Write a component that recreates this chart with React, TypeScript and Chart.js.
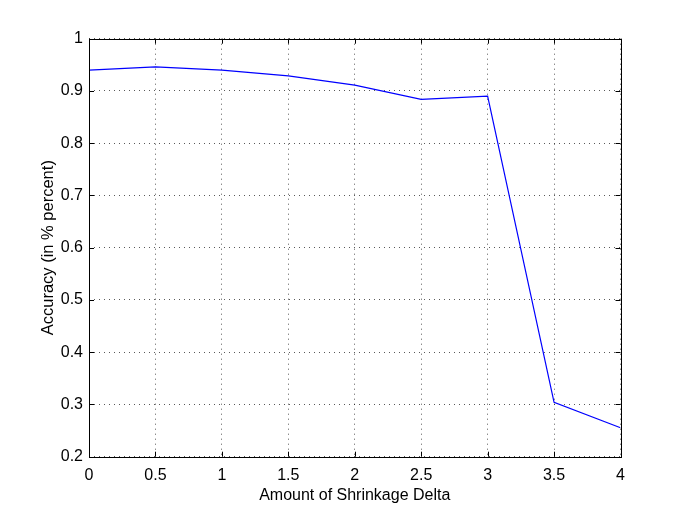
import React, { useEffect, useRef } from "react";
import { Chart, registerables } from "chart.js";

Chart.register(...registerables);

const shrinkageDelta = [0, 0.5, 1, 1.5, 2, 2.5, 3, 3.5, 4];
const accuracy = [0.94, 0.946, 0.94, 0.929, 0.911, 0.884, 0.89, 0.304, 0.2555];
const xTickValues = [0, 0.5, 1, 1.5, 2, 2.5, 3, 3.5, 4];
const xTickLabels = ["0", "0.5", "1", "1.5", "2", "2.5", "3", "3.5", "4"];
const yTickValues = [0.2, 0.3, 0.4, 0.5, 0.6, 0.7, 0.8, 0.9, 1];
const yTickLabels = ["0.2", "0.3", "0.4", "0.5", "0.6", "0.7", "0.8", "0.9", "1"];

const FONT = "'Liberation Sans', Arial, Helvetica, sans-serif";

const boxPlugin = {
  id: "matlabBox",
  afterDraw(chart: any) {
    const { ctx, chartArea } = chart;
    const { left, right, top, bottom } = chartArea;
    const xs = chart.scales.x;
    const ys = chart.scales.y;
    const tl = 5;
    ctx.save();
    ctx.strokeStyle = "#000";
    ctx.lineWidth = 1;
    ctx.setLineDash([]);
    ctx.beginPath();
    for (const v of xTickValues) {
      const px = Math.round(xs.getPixelForValue(v)) + 0.5;
      ctx.moveTo(px, bottom);
      ctx.lineTo(px, bottom - tl);
      ctx.moveTo(px, top);
      ctx.lineTo(px, top + tl);
    }
    for (const v of yTickValues) {
      const py = Math.round(ys.getPixelForValue(v)) + 0.5;
      ctx.moveTo(left, py);
      ctx.lineTo(left + tl, py);
      ctx.moveTo(right, py);
      ctx.lineTo(right - tl, py);
    }
    ctx.stroke();
    ctx.strokeRect(Math.round(left) + 0.5, Math.round(top) + 0.5, Math.round(right - left), Math.round(bottom - top));
    ctx.restore();
  },
};

export default function App() {
  const ref = useRef<HTMLCanvasElement | null>(null);
  useEffect(() => {
    if (!ref.current) return;
    const chart = new Chart(ref.current, {
      type: "line",
      data: {
        datasets: [
          {
            data: shrinkageDelta.map((x, i) => ({ x, y: accuracy[i] })),
            borderColor: "#0000ff",
            borderWidth: 1.2,
            pointRadius: 0,
            tension: 0,
            fill: false,
          },
        ],
      },
      plugins: [boxPlugin],
      options: {
        animation: false,
        responsive: true,
        maintainAspectRatio: false,
        layout: { padding: { top: 38.7, right: 64.5, bottom: 0, left: 0 } },
        plugins: { legend: { display: false }, tooltip: { enabled: false } },
        scales: {
          x: {
            type: "linear",
            min: 0,
            max: 4,
            afterFit: (s: any) => {
              s.height = 57.3;
            },
            afterBuildTicks: (s: any) => {
              s.ticks = xTickValues.map((v) => ({ value: v }));
            },
            ticks: {
              color: "#000",
              padding: 9,
              maxRotation: 0,
              autoSkip: false,
              font: { family: FONT, size: 16 },
              callback: (v: any) => {
                const i = xTickValues.findIndex((t) => Math.abs(t - Number(v)) < 1e-6);
                return i >= 0 ? xTickLabels[i] : "";
              },
            },
            grid: {
              color: "rgba(0,0,0,0.65)",
              lineWidth: 1,
              drawTicks: false,
            },
            border: { display: false, dash: [1, 4] },
            title: {
              display: true,
              text: "Amount of Shrinkage Delta",
              color: "#000",
              font: { family: FONT, size: 16 },
              padding: { top: 0, bottom: 9 },
            },
          },
          y: {
            type: "linear",
            min: 0.2,
            max: 1,
            afterFit: (s: any) => {
              s.width = 89;
            },
            afterBuildTicks: (s: any) => {
              s.ticks = yTickValues.map((v) => ({ value: v }));
            },
            ticks: {
              color: "#000",
              padding: 6,
              autoSkip: false,
              font: { family: FONT, size: 16 },
              callback: (v: any) => {
                const i = yTickValues.findIndex((t) => Math.abs(t - Number(v)) < 1e-6);
                return i >= 0 ? yTickLabels[i] : "";
              },
            },
            grid: {
              color: "rgba(0,0,0,0.65)",
              lineWidth: 1,
              drawTicks: false,
            },
            border: { display: false, dash: [1, 4] },
            title: {
              display: true,
              text: "Accuracy (in % percent)",
              color: "#000",
              font: { family: FONT, size: 16.5 },
              padding: { top: 39, bottom: 0 },
            },
          },
        },
      },
    });
    return () => chart.destroy();
  }, []);
  return (
    <div style={{ position: "absolute", left: 0, top: 0, width: 685, height: 514, background: "#fff" }}>
      <canvas ref={ref} />
    </div>
  );
}
